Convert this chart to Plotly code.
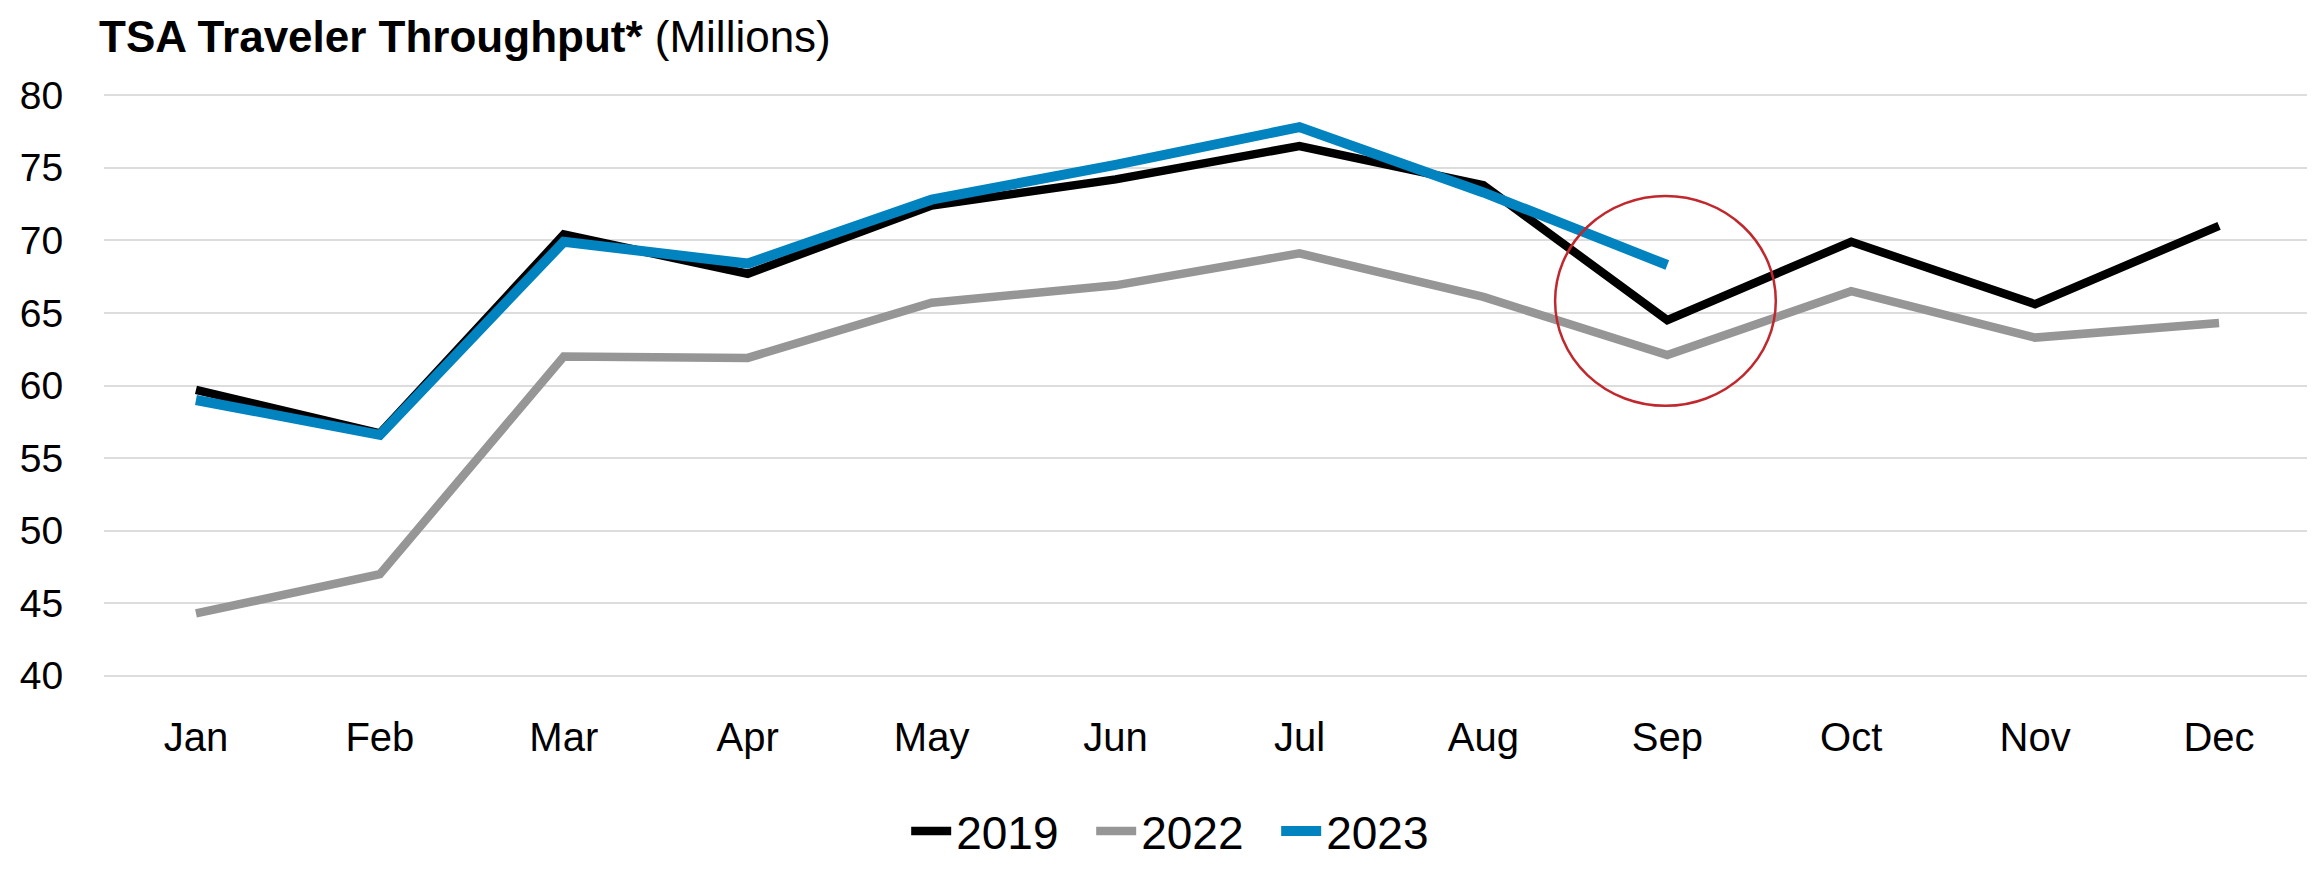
import plotly.graph_objects as go

months = ["Jan", "Feb", "Mar", "Apr", "May", "Jun", "Jul", "Aug", "Sep", "Oct", "Nov", "Dec"]
y2019 = [59.7, 56.7, 70.4, 67.7, 72.4, 74.2, 76.5, 73.8, 64.5, 69.9, 65.6, 71.0]
y2022 = [44.3, 47.0, 62.0, 61.9, 65.7, 66.9, 69.1, 66.1, 62.1, 66.5, 63.3, 64.3]
y2023 = [59.0, 56.6, 69.9, 68.4, 72.8, 75.2, 77.8, 73.3, 68.3]
yticks = [40, 45, 50, 55, 60, 65, 70, 75, 80]

# circle highlight (category index, value units)
circle_x = (7.39, 8.59)
circle_y = (58.6, 73.05)

fig = go.Figure()
fig.add_trace(go.Scatter(x=months, y=y2019, mode="lines", name="2019",
                         line=dict(color="#000000", width=8.5)))
fig.add_trace(go.Scatter(x=months, y=y2022, mode="lines", name="2022",
                         line=dict(color="#969696", width=8.5)))
fig.add_trace(go.Scatter(x=months[:len(y2023)], y=y2023, mode="lines", name="2023",
                         line=dict(color="#0083BE", width=10)))

fig.add_shape(type="circle", xref="x", yref="y",
              x0=circle_x[0], x1=circle_x[1], y0=circle_y[0], y1=circle_y[1],
              line=dict(color="#C0282D", width=2.5), layer="above")

plot_top, plot_h = 85, 608
plot_l, plot_w = 91, 2212
fig.update_layout(
    width=2315, height=872,
    margin=dict(l=plot_l, r=2315 - plot_l - plot_w, t=plot_top, b=872 - plot_top - plot_h),
    plot_bgcolor="white", paper_bgcolor="white",
    font=dict(family="Liberation Sans, Arial, sans-serif", size=39, color="#000000"),
    showlegend=True,
    legend=dict(orientation="h", x=(895 - plot_l) / plot_w, xanchor="left",
                y=-(852 - plot_top - plot_h) / plot_h, yanchor="middle",
                font=dict(family="Liberation Sans, Arial", size=46),
                itemwidth=40, entrywidth=130, entrywidthmode="pixels",
                traceorder="normal"),
    xaxis=dict(type="category", range=[-0.5, 11.5], showgrid=False, zeroline=False,
               showline=False, ticks="outside", ticklen=24, tickcolor="rgba(0,0,0,0)",
               tickfont=dict(size=40)),
    yaxis=dict(range=[39.85, 80.15], tickvals=yticks, showgrid=True, gridcolor="#DDDDDD",
               gridwidth=2, zeroline=False, showline=False, ticks="outside",
               ticklen=32, tickcolor="rgba(0,0,0,0)", tickfont=dict(size=39)),
    annotations=[dict(
        text="<b>TSA Traveler Throughput*</b> (Millions)",
        xref="paper", yref="paper", x=(84 - plot_l) / plot_w, y=1 + (plot_top - 26) / plot_h,
        xanchor="left", yanchor="middle", showarrow=False,
        font=dict(family="Liberation Sans, Arial", size=44, color="#000000"))],
)

fig.write_html("out.html")
